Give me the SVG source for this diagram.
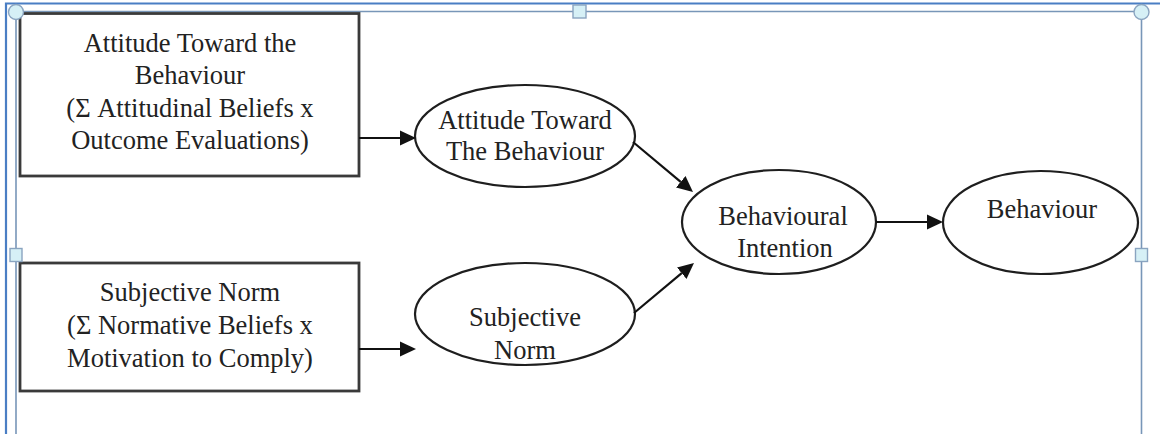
<svg xmlns="http://www.w3.org/2000/svg" width="1160" height="434" viewBox="0 0 1160 434">
<style>
.box{fill:#fff;stroke:#3a3a3a;stroke-width:2.8}
.ell{fill:#fff;stroke:#1e1e1e;stroke-width:2.2}
.t{font-family:"Liberation Serif","Times New Roman",serif;font-size:26.5px;fill:#222;text-anchor:middle}
.con{stroke:#111;stroke-width:2.2;fill:none;marker-end:url(#ah)}
.frame{stroke:#4a7ec4;stroke-width:2.2;fill:none}
.sel{stroke:#7896b8;stroke-width:1.6;fill:none}
.hnd{fill:#d6f0f6;stroke:#8aa4c0;stroke-width:1.4}
</style>
<defs>
<marker id="ah" viewBox="0 -8 16 16" refX="0" refY="0" markerWidth="16" markerHeight="16" markerUnits="userSpaceOnUse" orient="auto">
<path d="M0,-7.5 L16,0 L0,7.5 z" fill="#111"/>
</marker>
</defs>
<rect width="1160" height="434" fill="#fff"/>
<g id="frame">
<path class="frame" d="M6,434 V3.5 H1160"/>
<path class="sel" d="M16,434 V11.5 H1141.5 V434"/>
</g>
<g id="box-attitude">
<rect class="box" x="20" y="13.5" width="339" height="162.5"/>
<text class="t" x="190" y="52">Attitude Toward the</text>
<text class="t" x="190" y="84">Behaviour</text>
<text class="t" x="190" y="117">(Σ Attitudinal Beliefs x</text>
<text class="t" x="190" y="149">Outcome Evaluations)</text>
</g>
<g id="box-norm">
<rect class="box" x="20" y="263" width="339" height="128"/>
<text class="t" x="190" y="301">Subjective Norm</text>
<text class="t" x="190" y="334">(Σ Normative Beliefs x</text>
<text class="t" x="190" y="367">Motivation to Comply)</text>
</g>
<g id="ell-attitude">
<ellipse class="ell" cx="525" cy="136" rx="110" ry="51"/>
<text class="t" x="525" y="129">Attitude Toward</text>
<text class="t" x="525" y="160">The Behaviour</text>
</g>
<g id="ell-norm">
<ellipse class="ell" cx="525" cy="314" rx="110" ry="51"/>
<text class="t" x="525" y="326">Subjective</text>
<text class="t" x="525" y="359">Norm</text>
</g>
<g id="ell-intention">
<ellipse class="ell" cx="779" cy="222" rx="97" ry="52"/>
<text class="t" x="783" y="225">Behavioural</text>
<text class="t" x="785" y="257">Intention</text>
</g>
<g id="ell-behaviour">
<ellipse class="ell" cx="1040.5" cy="222.5" rx="97.5" ry="51.5"/>
<text class="t" x="1042" y="218">Behaviour</text>
</g>
<g id="connectors">
<line class="con" x1="359" y1="138" x2="400" y2="138"/>
<line class="con" x1="359" y1="349" x2="400" y2="349"/>
<line class="con" x1="633" y1="142" x2="680.7" y2="181.8"/>
<line class="con" x1="634" y1="313" x2="681.7" y2="273.2"/>
<line class="con" x1="876" y1="222" x2="927" y2="222"/>
</g>
<g id="handles">
<circle class="hnd" cx="16" cy="12" r="7.5"/>
<circle class="hnd" cx="1141.5" cy="12" r="7.5"/>
<rect class="hnd" x="573" y="5" width="13" height="13"/>
<rect class="hnd" x="10" y="248.5" width="12" height="13"/>
<rect class="hnd" x="1135.5" y="248.5" width="12" height="13"/>
</g>
</svg>
